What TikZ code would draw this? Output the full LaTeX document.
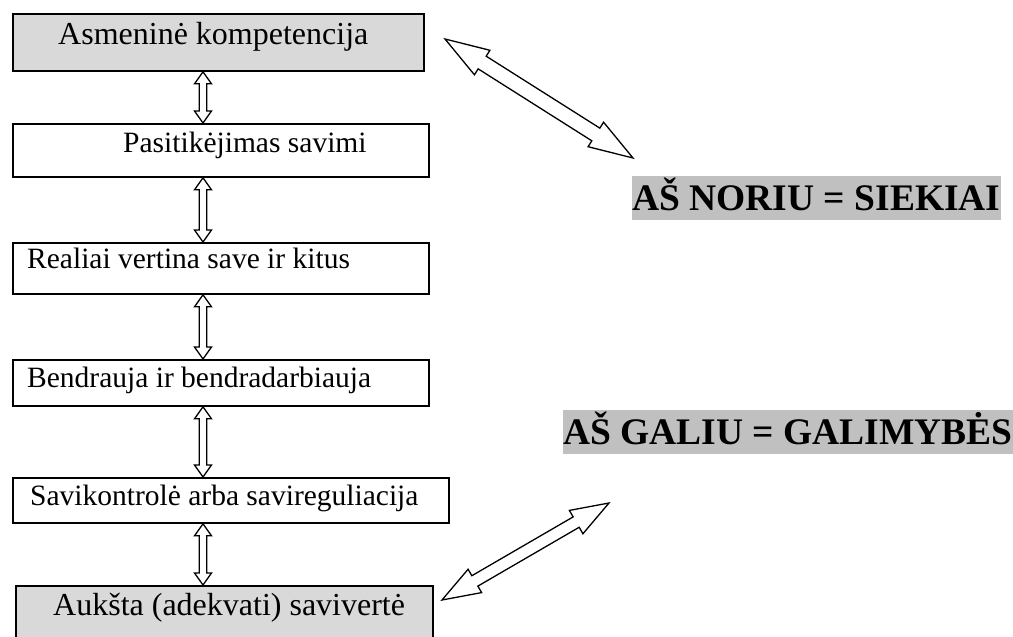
\documentclass[tikz,border=0pt]{standalone}
\usepackage{fontspec}
\setmainfont{Liberation Serif}
\usetikzlibrary{calc}
\definecolor{boxgray}{HTML}{D9D9D9}
\definecolor{hlgray}{HTML}{C0C0C0}
\newcommand\fatdbl[5]{%
  \draw[fatarrow] (#1) -- ($(#1)!#3!(#2)!#4!90:(#2)$) -- ($(#1)!#3!(#2)!#5!90:(#2)$)
   -- ($(#2)!#3!(#1)!#5!-90:(#1)$) -- ($(#2)!#3!(#1)!#4!-90:(#1)$) -- (#2)
   -- ($(#2)!#3!(#1)!#4!90:(#1)$) -- ($(#2)!#3!(#1)!#5!90:(#1)$)
   -- ($(#1)!#3!(#2)!#5!-90:(#2)$) -- ($(#1)!#3!(#2)!#4!-90:(#2)$) -- cycle;}
\begin{document}
\begin{tikzpicture}[x=1pt,y=-1pt,
  box/.style={draw,line width=1.8pt,inner sep=0,anchor=north west,fill=white},
  graybox/.style={box,fill=boxgray},
  btext/.style={inner sep=0,anchor=base west,font=\fontsize{29.5}{34}\selectfont},
  bigtext/.style={inner sep=0,anchor=base west,font=\fontsize{32}{38}\selectfont},
  label/.style={inner sep=0,anchor=base west,fill=hlgray,text height=34pt,text depth=10pt,
    font=\fontsize{37.5}{44}\bfseries\selectfont},
  fatarrow/.style={draw,fill=white,line width=1.3pt,line join=miter}]
\useasboundingbox (0,0) rectangle (1013,637);
\clip (0,0) rectangle (1013,637);
% boxes
\node[graybox,minimum width=411pt,minimum height=57pt] (b1) at (12,13) {};
\node[box,minimum width=416pt,minimum height=53pt] (b2) at (12,123) {};
\node[box,minimum width=416pt,minimum height=51pt] (b3) at (12,242) {};
\node[box,minimum width=416pt,minimum height=46pt] (b4) at (12,359) {};
\node[box,minimum width=436pt,minimum height=45pt] (b5) at (12,477) {};
\node[graybox,minimum width=417pt,minimum height=70pt] (b6) at (15,585) {};
% texts
\node[bigtext] (t1) at (58,45) {Asmeninė kompetencija};
\node[btext] (t2) at (123,152) {Pasitikėjimas savimi};
\node[btext] (t3) at (27,268) {Realiai vertina save ir kitus};
\node[btext] (t4) at (27,387) {Bendrauja ir bendradarbiauja};
\node[btext] (t5) at (30,505) {Savikontrolė arba savireguliacija};
\node[bigtext] (t6) at (53,615) {Aukšta (adekvati) savivertė};
% labels
\node[label] (l1) at (632,210) {AŠ NORIU = SIEKIAI};
\node[label] (l2) at (563,444) {AŠ GALIU = GALIMYBĖS};
% vertical arrows
\coordinate (ax) at (203,0);
\fatdbl{b1.south -| ax}{b2.north -| ax}{12pt}{8.5pt}{3.8pt}
\fatdbl{b2.south -| ax}{b3.north -| ax}{12pt}{8.5pt}{3.8pt}
\fatdbl{b3.south -| ax}{b4.north -| ax}{12pt}{8.5pt}{3.8pt}
\fatdbl{b4.south -| ax}{b5.north -| ax}{12pt}{8.5pt}{3.8pt}
\fatdbl{b5.south -| ax}{b6.north -| ax}{12pt}{8.5pt}{3.8pt}
% diagonal arrows
\coordinate (d1a) at (445,39);
\coordinate (d1b) at (633,158);
\coordinate (d2a) at (442,600);
\coordinate (d2b) at (609,503);
\fatdbl{d1a}{d1b}{44pt}{14.5pt}{7.5pt}
\fatdbl{d2a}{d2b}{38pt}{13.5pt}{6pt}
\end{tikzpicture}
\end{document}
